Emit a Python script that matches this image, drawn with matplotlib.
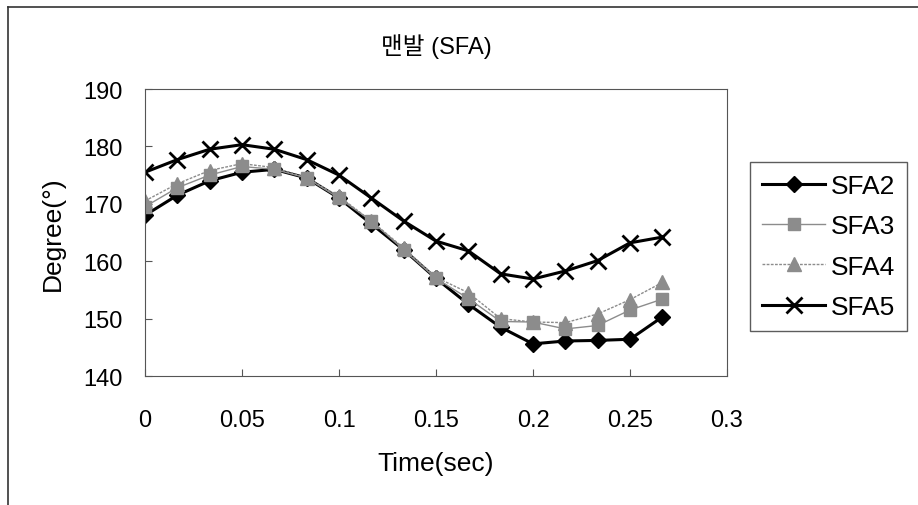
import matplotlib.pyplot as plt
from matplotlib.lines import Line2D

plt.rcParams['font.family'] = ['Liberation Sans', 'Noto Sans CJK KR', 'DejaVu Sans']

# 데이터
time = [0.0, 0.0167, 0.0333, 0.05, 0.0667, 0.0833, 0.1, 0.1167, 0.1333,
        0.15, 0.1667, 0.1833, 0.2, 0.2167, 0.2333, 0.25, 0.2667]
sfa2 = [168.0, 171.5, 174.0, 175.5, 176.0, 174.5, 171.0, 166.5, 162.0,
        157.0, 152.5, 148.5, 145.6, 146.1, 146.2, 146.4, 150.3]
sfa3 = [169.5, 172.8, 175.0, 176.5, 176.0, 174.5, 171.0, 167.0, 162.0,
        157.0, 153.5, 149.5, 149.4, 148.2, 148.8, 151.5, 153.4]
sfa4 = [170.5, 173.5, 175.8, 177.0, 176.3, 174.5, 171.3, 167.0, 162.3,
        157.2, 154.5, 150.0, 149.4, 149.3, 150.8, 153.3, 156.3]
sfa5 = [175.5, 177.7, 179.5, 180.3, 179.5, 177.7, 175.0, 171.0, 167.0,
        163.5, 161.8, 157.8, 156.9, 158.3, 160.1, 163.2, 164.2]
labels = ['SFA2', 'SFA3', 'SFA4', 'SFA5']
xticks = [0, 0.05, 0.1, 0.15, 0.2, 0.25, 0.3]
xticklabels = ['0', '0.05', '0.1', '0.15', '0.2', '0.25', '0.3']
yticks = [140, 150, 160, 170, 180, 190]

fig = plt.figure(figsize=(9.18, 5.06), dpi=100)
ax = fig.add_axes([145/918, 1-377/506, 582/918, 287/506])

ax.plot(time, sfa2, color='black', lw=2.2, marker='D', ms=8, label=labels[0])
ax.plot(time, sfa3, color='#8c8c8c', lw=1, marker='s', ms=9, label=labels[1])
ax.plot(time, sfa4, color='#8c8c8c', lw=1, ls=(0, (2, 1)), marker='^', ms=10, label=labels[2])
ax.plot(time, sfa5, color='black', lw=2.2, marker='x', ms=11, mew=2, label=labels[3])

ax.set_xlim(0, 0.3)
ax.set_ylim(140, 190)
ax.set_xticks(xticks)
ax.set_xticklabels(xticklabels)
ax.set_yticks(yticks)
ax.tick_params(direction='in', labelsize=17, length=5, color='#555555')
ax.tick_params(axis='x', pad=24)
ax.tick_params(axis='y', pad=16)
for s in ax.spines.values():
    s.set_color('#555555')

ax.set_title('맨발 (SFA)', fontsize=17, pad=26)
ax.set_xlabel('Time(sec)', fontsize=19, labelpad=14)
ax.set_ylabel('Degree(°)', fontsize=19, labelpad=13)

leg = fig.legend(loc='upper left', bbox_to_anchor=(750/918, 1-163/506), fontsize=19,
                 frameon=True, fancybox=False, edgecolor='#333333',
                 handlelength=2.4, borderpad=0.45, labelspacing=0.62,
                 handletextpad=0.2, borderaxespad=0)
leg.get_frame().set_linewidth(1)

# 바깥 테두리
fig.add_artist(Line2D([0.009, 0.009], [0, 0.985], color='#333333', lw=1.2))
fig.add_artist(Line2D([0.009, 1.0], [0.985, 0.985], color='#333333', lw=1.2))

plt.savefig('out.png', dpi=100)
